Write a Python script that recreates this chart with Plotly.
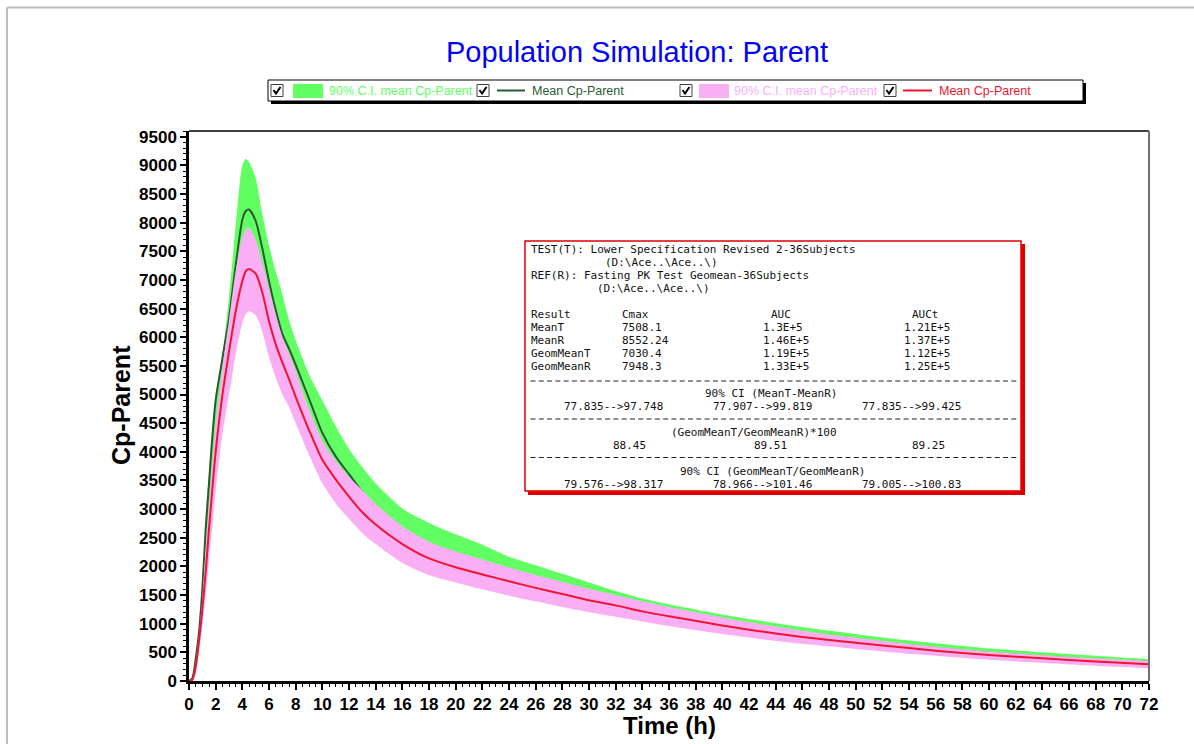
import re
import plotly.graph_objects as go

# ---------------- data ----------------
time_h = [0, 0.25, 0.5, 0.75, 1, 1.25, 1.5, 1.75, 2, 2.5, 3, 3.5, 4, 4.25, 4.5, 5, 5.5, 6, 6.5, 7,
          7.5, 8, 9, 10, 11, 12, 13, 14, 16, 18, 20, 22, 24, 26, 28, 30, 32, 34, 36, 40, 44, 48,
          52, 56, 60, 64, 68, 72]

# test: 90% C.I. band (green) and mean (dark green)
test_ci_low = [0, 30, 300, 700, 1300, 2200, 2950, 3700, 4300, 4950, 5600, 6400, 7100, 7250, 7280,
               7100, 6700, 6150, 5700, 5350, 5100, 4850, 4350, 3800, 3450, 3180, 2900, 2660, 2290,
               2050, 1890, 1770, 1650, 1550, 1440, 1340, 1250, 1150, 1070, 920, 790, 680, 585, 500,
               430, 375, 325, 278]
test_ci_high = [0, 70, 450, 950, 1750, 2800, 3650, 4450, 5000, 5700, 6700, 7950, 9000, 9110, 9060,
                8780, 8150, 7600, 7150, 6750, 6300, 5950, 5350, 4900, 4450, 4050, 3730, 3450, 3010,
                2760, 2560, 2380, 2170, 2020, 1870, 1720, 1570, 1440, 1340, 1160, 1010, 880, 760,
                660, 571, 500, 440, 379]
test_mean = [0, 50, 380, 850, 1600, 2650, 3450, 4250, 4900, 5620, 6330, 7250, 8050, 8200, 8230,
             8030, 7550, 6980, 6480, 6060, 5800, 5520, 4930, 4330, 3920, 3610, 3300, 3020, 2600,
             2330, 2150, 2010, 1880, 1760, 1640, 1520, 1420, 1310, 1220, 1045, 895, 770, 665, 570,
             490, 425, 368, 315]

# reference: 90% C.I. band (pink) and mean (red)
ref_ci_low = [0, 0, 120, 480, 950, 1500, 2100, 2700, 3300, 4300, 5000, 5700, 6250, 6400, 6460,
              6380, 6100, 5650, 5300, 5000, 4780, 4500, 3950, 3450, 3100, 2830, 2580, 2390, 2060,
              1850, 1720, 1600, 1490, 1390, 1290, 1200, 1120, 1040, 960, 820, 700, 605, 515, 440,
              370, 315, 265, 222]
ref_ci_high = [0, 40, 330, 800, 1450, 2300, 3050, 3800, 4500, 5450, 6300, 7150, 7750, 7880, 7910,
               7700, 7300, 6850, 6400, 6000, 5720, 5420, 4750, 4200, 3850, 3560, 3330, 3090, 2700,
               2430, 2260, 2120, 1980, 1850, 1730, 1610, 1500, 1390, 1290, 1110, 950, 810, 700,
               600, 515, 450, 395, 345]
ref_mean = [0, 20, 250, 700, 1250, 1900, 2650, 3350, 4000, 4980, 5750, 6450, 6980, 7150, 7190,
            7110, 6780, 6280, 5880, 5560, 5270, 4960, 4380, 3860, 3520, 3220, 2945, 2730, 2390,
            2140, 1985, 1860, 1740, 1625, 1520, 1410, 1320, 1215, 1130, 970, 830, 716, 620, 530,
            454, 395, 340, 291]

legend_labels = ["90% C.I. mean Cp-Parent", "Mean Cp-Parent", "90% C.I. mean Cp-Parent", "Mean Cp-Parent"]

# statistics box content
test_name = "Lower Specification Revised 2-36Subjects"
ref_name = "Fasting PK Test Geomean-36Subjects"
file_path = "(D:\\Ace..\\Ace..\\)"
stat_cols = ["Cmax", "AUC", "AUCt"]
stat_rows = ["MeanT", "MeanR", "GeomMeanT", "GeomMeanR"]
stat_vals = [["7508.1", "1.3E+5", "1.21E+5"],
             ["8552.24", "1.46E+5", "1.37E+5"],
             ["7030.4", "1.19E+5", "1.12E+5"],
             ["7948.3", "1.33E+5", "1.25E+5"]]
ci_mean = ["77.835-->97.748", "77.907-->99.819", "77.835-->99.425"]
geo_ratio = ["88.45", "89.51", "89.25"]
ci_geo = ["79.576-->98.317", "78.966-->101.46", "79.005-->100.83"]

# ---------------- styles ----------------
GREEN = "#62FF62"
DKGREEN = "#2A5A32"
PINK = "#FAAFF5"
RED = "#F01432"
SMOOTH = 0.7

W, H = 1194, 744
L, R, T, B = 189, 1149, 131, 681


def px(x):
    return (x - L) / (R - L)


def py(y):
    return (B - y) / (B - T)


fig = go.Figure()
fig.add_trace(go.Scatter(x=time_h, y=test_ci_low, mode="lines",
                         line=dict(width=0, color=GREEN, shape="spline", smoothing=SMOOTH),
                         showlegend=False, hoverinfo="skip"))
fig.add_trace(go.Scatter(x=time_h, y=test_ci_high, mode="lines",
                         line=dict(width=0, color=GREEN, shape="spline", smoothing=SMOOTH),
                         fill="tonexty", fillcolor=GREEN, name=legend_labels[0], showlegend=False))
fig.add_trace(go.Scatter(x=time_h, y=test_mean, mode="lines",
                         line=dict(width=2, color=DKGREEN, shape="spline", smoothing=SMOOTH),
                         name=legend_labels[1], showlegend=False))
fig.add_trace(go.Scatter(x=time_h, y=ref_ci_low, mode="lines",
                         line=dict(width=0, color=PINK, shape="spline", smoothing=SMOOTH),
                         showlegend=False, hoverinfo="skip"))
fig.add_trace(go.Scatter(x=time_h, y=ref_ci_high, mode="lines",
                         line=dict(width=0, color=PINK, shape="spline", smoothing=SMOOTH),
                         fill="tonexty", fillcolor=PINK, name=legend_labels[2], showlegend=False))
fig.add_trace(go.Scatter(x=time_h, y=ref_mean, mode="lines",
                         line=dict(width=2, color=RED, shape="spline", smoothing=SMOOTH),
                         name=legend_labels[3], showlegend=False))

shapes = []
annotations = []

# page frame (gray)
shapes.append(dict(type="line", xref="paper", yref="paper", x0=px(7), x1=px(1194), y0=py(7.5), y1=py(7.5),
                   line=dict(color="#BEBEBE", width=2)))
shapes.append(dict(type="line", xref="paper", yref="paper", x0=px(7), x1=px(7), y0=py(7.5), y1=py(744),
                   line=dict(color="#BEBEBE", width=2)))
# plot frame: top and right
shapes.append(dict(type="line", xref="paper", yref="paper", x0=0, x1=1, y0=1, y1=1,
                   line=dict(color="black", width=1.5)))
shapes.append(dict(type="line", xref="paper", yref="paper", x0=1, x1=1, y0=0, y1=1,
                   line=dict(color="#707070", width=2)))

# ----- custom legend -----
shapes.append(dict(type="rect", xref="paper", yref="paper", x0=px(271), x1=px(1086), y0=py(104), y1=py(83),
                   fillcolor="black", line=dict(width=0)))
shapes.append(dict(type="rect", xref="paper", yref="paper", x0=px(268), x1=px(1083), y0=py(101), y1=py(80),
                   fillcolor="white", line=dict(color="black", width=1)))
for cx in [271, 477, 680, 884]:
    shapes.append(dict(type="rect", xref="paper", yref="paper", x0=px(cx), x1=px(cx + 12), y0=py(96.5),
                       y1=py(84.5), fillcolor="white", line=dict(color="#404040", width=1)))
    shapes.append(dict(type="path", xref="paper", yref="paper",
                       path="M {:.5f},{:.5f} L {:.5f},{:.5f} L {:.5f},{:.5f}".format(
                           px(cx + 2.5), py(90), px(cx + 5), py(93.5), px(cx + 9.5), py(87)),
                       line=dict(color="black", width=2)))
shapes.append(dict(type="rect", xref="paper", yref="paper", x0=px(293), x1=px(323), y0=py(98), y1=py(84),
                   fillcolor=GREEN, line=dict(width=0)))
shapes.append(dict(type="line", xref="paper", yref="paper", x0=px(497), x1=px(525), y0=py(90.5), y1=py(90.5),
                   line=dict(color=DKGREEN, width=2)))
shapes.append(dict(type="rect", xref="paper", yref="paper", x0=px(699), x1=px(729), y0=py(98), y1=py(84),
                   fillcolor=PINK, line=dict(width=0)))
shapes.append(dict(type="line", xref="paper", yref="paper", x0=px(903), x1=px(932), y0=py(90.5), y1=py(90.5),
                   line=dict(color=RED, width=2)))
for tx, lab, col in zip([328, 531, 733, 938], legend_labels, [GREEN, DKGREEN, PINK, RED]):
    annotations.append(dict(text=lab, xref="paper", yref="paper", x=px(tx), y=py(91), xanchor="left",
                            yanchor="middle", showarrow=False, borderpad=0,
                            font=dict(family="Liberation Sans, Arial", size=12.5, color=col)))

# ----- statistics box -----
shapes.append(dict(type="rect", xref="paper", yref="paper", x0=px(528), x1=px(1025), y0=py(495), y1=py(244),
                   fillcolor="#DD0000", line=dict(width=0)))
shapes.append(dict(type="rect", xref="paper", yref="paper", x0=px(525), x1=px(1021), y0=py(491), y1=py(241),
                   fillcolor="white", line=dict(color="#E00000", width=1.5)))


def row(cells, cols):
    s = ""
    for c, col in zip(cells, cols):
        if len(s) < col:
            s += " " * (col - len(s))
        s += c
    return s


lines = [
    (249, "TEST(T): " + test_name),
    (262, " " * 9 + file_path),
    (275, "REF(R): " + ref_name),
    (288, " " * 8 + file_path),
    (314, row(["Result"] + stat_cols, [0, 11, 29, 46])),
]
for i, (rn, vals) in enumerate(zip(stat_rows, stat_vals)):
    lines.append((327 + 13 * i, row([rn] + vals, [0, 11, 28, 45])))
lines += [
    (393, row(["90% CI (MeanT-MeanR)"], [21])),
    (406, row(ci_mean, [4, 22, 40])),
    (432, row(["(GeomMeanT/GeomMeanR)*100"], [17])),
    (445, row(geo_ratio, [10, 27, 46])),
    (471.5, row(["90% CI (GeomMeanT/GeomMeanR)"], [18])),
    (484.5, row(ci_geo, [4, 22, 40])),
]
CW = 8.29      # character cell width of the reference monospaced text
X0 = 529.5
for yy, txt in lines:
    # keep phrases (single-space separated) together; place each column at its own position
    for m in re.finditer(r"\S+(?: \S+)*", txt):
        annotations.append(dict(text=m.group(0), xref="paper", yref="paper", x=px(X0 + CW * m.start()),
                                y=py(yy), xanchor="left", yanchor="middle", showarrow=False, borderpad=0,
                                font=dict(family="DejaVu Sans Mono", size=11, color="#111111")))
# separator lines made of dashes
for yy in [381, 419, 457.5]:
    shapes.append(dict(type="line", xref="paper", yref="paper", x0=px(530.5), x1=px(530.5 + CW * 59),
                       y0=py(yy), y1=py(yy), line=dict(color="#222222", width=1, dash="5px,3.29px")))

# axis titles
annotations.append(dict(text="Cp-Parent", xref="paper", yref="paper", x=px(121), y=py(405), textangle=-90,
                        xanchor="center", yanchor="middle", showarrow=False, borderpad=0,
                        font=dict(family="Liberation Sans, Arial", size=25, color="black", weight="bold")))
annotations.append(dict(text="Time (h)", xref="paper", yref="paper", x=px(669.5), y=py(725.5),
                        xanchor="center", yanchor="middle", showarrow=False, borderpad=0,
                        font=dict(family="Liberation Sans, Arial", size=24, color="black", weight="bold")))

tickfont = dict(family="Liberation Sans, Arial", size=17, color="black", weight="bold")
fig.update_layout(
    width=W, height=H, autosize=False,
    margin=dict(l=L, r=W - R, t=T, b=H - B, pad=0),
    paper_bgcolor="white", plot_bgcolor="white",
    title=dict(text="Population Simulation: Parent", x=637 / W, xanchor="center", y=1 - 52 / H,
               yanchor="middle", xref="container",
               font=dict(family="Liberation Sans, Arial", size=29, color="#0000FF")),
    xaxis=dict(range=[0, 72], dtick=2, tick0=0, showgrid=False, zeroline=False, showline=True,
               linecolor="black", linewidth=2.5, ticks="outside", ticklen=6, tickwidth=2, tickcolor="black",
               tickfont=tickfont,
               minor=dict(dtick=0.5, ticklen=3, tickwidth=1, tickcolor="black", ticks="outside")),
    yaxis=dict(range=[0, 9600], dtick=500, tick0=0, showgrid=False, zeroline=False, showline=True,
               linecolor="black", linewidth=2.5, ticks="outside", ticklen=6, tickwidth=2, tickcolor="black",
               tickfont=tickfont,
               minor=dict(dtick=100, ticklen=3, tickwidth=1, tickcolor="black", ticks="outside")),
    shapes=shapes,
    annotations=annotations,
    showlegend=False,
)

fig.write_html("out.html")
